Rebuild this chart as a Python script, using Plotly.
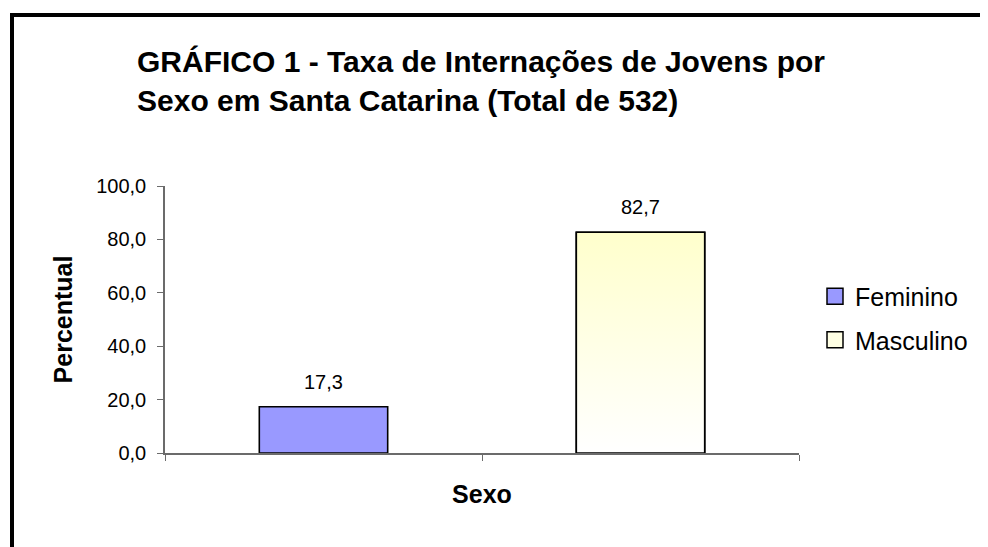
import plotly.graph_objects as go

categories = ["Feminino", "Masculino"]
values = [17.3, 82.7]
colors = ["#9999FF", "#FFFFCC"]
legend_colors = ["#9999FF", "#FFFFE4"]
y_ticks = [0, 20, 40, 60, 80, 100]
title_lines = ["GRÁFICO 1 - Taxa de Internações de Jovens por",
               "Sexo em Santa Catarina (Total de 532)"]

W, H = 988, 547
# page body adds an 8px offset; figure coordinates below compensate for it
ML, MR, MT, MB = 157, 197, 178, 102
PW, PH = W - ML - MR, H - MT - MB
FONT = "Liberation Sans, Arial, sans-serif"
BAR_W = 0.405
AXIS_COL = "#6b6b6b"


def px_x(p):
    return (p - ML) / PW


def px_y(p):
    return (H - MB - p) / PH


fig = go.Figure()
xs = list(range(len(categories)))
for i, (c, v, col) in enumerate(zip(categories, values, colors)):
    fig.add_trace(go.Bar(
        x=[xs[i]], y=[v], name=c, width=BAR_W,
        marker=dict(color=col, line=dict(color="black", width=1.6)),
        legendgroup=c, showlegend=False, hoverinfo="skip",
    ))

# gradient fill for Masculino bar (light yellow at top fading to white)
i = 1
x0, x1 = xs[i] - BAR_W / 2, xs[i] + BAR_W / 2
fig.add_trace(go.Scatter(
    x=[x0, x1, x1, x0, x0], y=[0, 0, values[i], values[i], 0],
    mode="lines", fill="toself",
    fillgradient=dict(type="vertical",
                      colorscale=[[0, "#FFFFFF"], [1, colors[i]]]),
    line=dict(color="black", width=1.6),
    showlegend=False, hoverinfo="skip",
))

# legend entries (square swatches)
for c, col in zip(categories, legend_colors):
    fig.add_trace(go.Scatter(
        x=[None], y=[None], mode="markers", name=c, legendgroup=c,
        marker=dict(symbol="square", size=16, color=col,
                    line=dict(color="black", width=1.5)),
    ))

annotations = []
for xi, v in zip(xs, values):
    annotations.append(dict(
        x=xi, y=v, xref="x", yref="y", text=f"{v:.1f}".replace(".", ","),
        showarrow=False, yanchor="bottom", yshift=12,
        font=dict(family=FONT, size=20, color="black"),
    ))

shapes = [
    dict(type="line", xref="paper", yref="paper",
         x0=px_x(4), x1=px_x(1000), y0=px_y(7), y1=px_y(7),
         line=dict(color="black", width=4)),
    dict(type="line", xref="paper", yref="paper",
         x0=px_x(4), x1=px_x(4), y0=px_y(5), y1=px_y(560),
         line=dict(color="black", width=4)),
]

fig.update_layout(
    width=W, height=H,
    margin=dict(l=ML, r=MR, t=MT, b=MB),
    paper_bgcolor="white", plot_bgcolor="white",
    barmode="overlay",
    separators=",.",
    font=dict(family=FONT, size=20, color="black"),
    title=dict(text="<br>".join(title_lines), x=129 / W, xanchor="left",
               xref="container", y=1 - 64 / H, yanchor="top", yref="container",
               font=dict(family=FONT, size=30, color="black", weight="bold")),
    xaxis=dict(range=[-0.5, 1.5], tickvals=[-0.5, 0.5, 1.5], ticks="outside",
               ticklen=6, tickcolor=AXIS_COL, showticklabels=False,
               showline=True, linecolor=AXIS_COL, linewidth=1.5, showgrid=False,
               zeroline=False,
               title=dict(text="<b>Sexo</b>", standoff=26,
                          font=dict(family=FONT, size=25))),
    yaxis=dict(range=[0, 100], tickvals=y_ticks, tickformat=".1f",
               ticks="outside", ticklen=6, tickcolor=AXIS_COL,
               ticklabelstandoff=7,
               showline=True, linecolor=AXIS_COL, linewidth=1.5, showgrid=False,
               zeroline=False, tickfont=dict(family=FONT, size=20),
               title=dict(text="<b>Percentual</b>", standoff=16,
                          font=dict(family=FONT, size=25))),
    legend=dict(x=px_x(807), xanchor="left", y=px_y(310), yanchor="middle",
                font=dict(family=FONT, size=25), tracegroupgap=8,
                traceorder="grouped", bgcolor="rgba(0,0,0,0)"),
    annotations=annotations,
    shapes=shapes,
)

fig.write_html("out.html")
